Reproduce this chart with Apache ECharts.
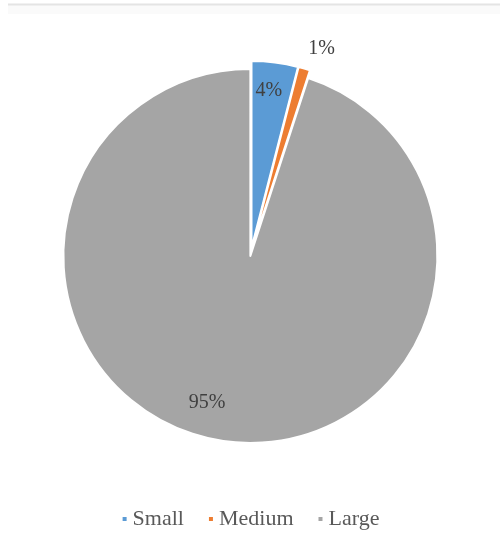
<!DOCTYPE html>
<html>
<head>
<meta charset="utf-8">
<script src="https://cdn.jsdelivr.net/npm/echarts@6/dist/echarts.min.js"></script>
<style>
  html, body { margin: 0; padding: 0; background: #ffffff; }
  #chart { width: 500px; height: 553px; }
</style>
</head>
<body>
<div id="chart"></div>
<script>
// Share of firms by size class
const categories = ['Small', 'Medium', 'Large'];
const shares = [4, 1, 95];
const colors = ['#5B9BD5', '#ED7D31', '#A5A5A5'];

const FONT = 'Liberation Serif';
const CENTER = [251, 252];
const R = 187;

// label placement per slice (pushed in or out to keep text readable)
const labelStyles = [
  { position: 'inside', offset: [-3, 3] },
  { position: 'outside', offset: [-2, 0] },
  { position: 'inside', offset: [-18, -13] }
];

const sliceData = categories.map((name, i) => ({
  name,
  value: shares[i],
  selected: true,
  itemStyle: { color: colors[i] }
}));

const labelData = categories.map((name, i) => ({
  name,
  value: shares[i],
  label: labelStyles[i]
}));

const chart = echarts.init(document.getElementById('chart'), null, { renderer: 'canvas' });

chart.setOption({
  animation: false,
  backgroundColor: '#ffffff',
  graphic: [
    { type: 'rect', shape: { x: 8, y: 5, width: 492, height: 9 }, style: { fill: '#fafafa' }, silent: true },
    { type: 'line', shape: { x1: 8, y1: 4.5, x2: 500, y2: 4.5 }, style: { stroke: '#e4e4e4', lineWidth: 2 }, silent: true }
  ],
  legend: {
    data: categories,
    bottom: 18,
    left: 'center',
    icon: 'rect',
    itemWidth: 6,
    itemHeight: 6,
    itemGap: 23,
    selectedMode: false,
    textStyle: { fontFamily: FONT, fontSize: 22, color: '#595959' }
  },
  series: [
    {
      type: 'pie',
      center: CENTER,
      radius: [0, R],
      startAngle: 90,
      clockwise: true,
      selectedMode: 'multiple',
      selectedOffset: 4,
      avoidLabelOverlap: false,
      itemStyle: { borderColor: '#ffffff', borderWidth: 2 },
      label: { show: false },
      labelLine: { show: false },
      emphasis: { disabled: true },
      silent: true,
      data: sliceData
    },
    {
      // transparent ring that only carries the percentage labels
      type: 'pie',
      center: CENTER,
      radius: [140, 186],
      startAngle: 90,
      clockwise: true,
      avoidLabelOverlap: false,
      silent: true,
      emphasis: { disabled: true },
      itemStyle: { color: 'rgba(0,0,0,0)', borderWidth: 0 },
      label: {
        show: true,
        formatter: '{d}%',
        fontFamily: FONT,
        fontSize: 20,
        color: '#404040',
        distanceToLabelLine: 0
      },
      labelLine: { show: false, length: 26, length2: 0 },
      data: labelData
    }
  ]
});
</script>
</body>
</html>
